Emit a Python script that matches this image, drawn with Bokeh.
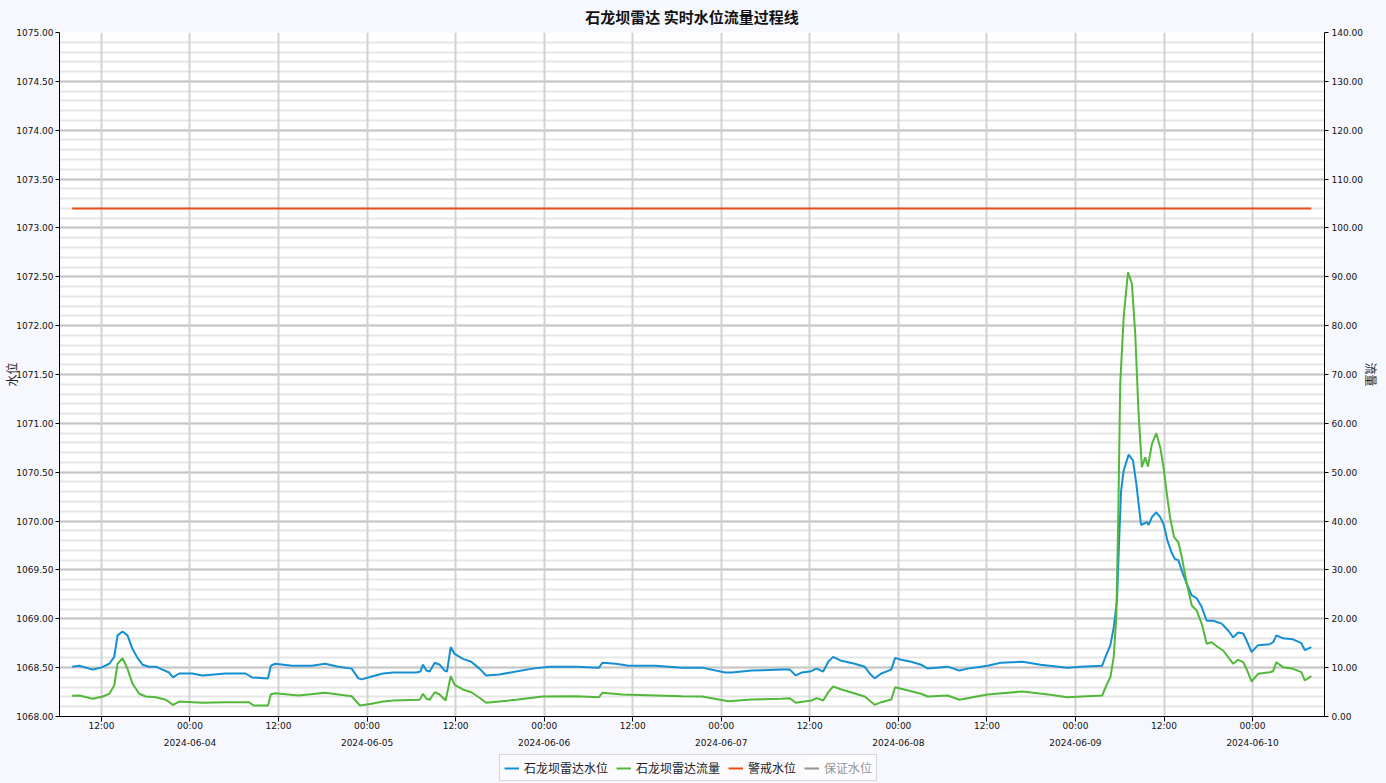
import pandas as pd
from bokeh.plotting import figure
from bokeh.layouts import column
from bokeh.models import (Range1d, LinearAxis, DatetimeAxis, FixedTicker, SingleIntervalTicker, Grid,
                          NumeralTickFormatter, DatetimeTickFormatter, Legend, LegendItem)
from bokeh.embed import file_html
from bokeh.resources import INLINE

# ---------------- data ----------------
level_time = [
    "2024-06-03 08:02", "2024-06-03 09:01", "2024-06-03 10:49", "2024-06-03 11:57", "2024-06-03 13:04",
    "2024-06-03 13:44", "2024-06-03 14:11", "2024-06-03 14:52", "2024-06-03 15:32", "2024-06-03 16:13",
    "2024-06-03 16:53", "2024-06-03 17:34", "2024-06-03 18:28", "2024-06-03 19:22", "2024-06-03 20:16",
    "2024-06-03 21:10", "2024-06-03 21:42", "2024-06-03 22:31", "2024-06-04 00:19", "2024-06-04 01:40",
    "2024-06-04 04:49", "2024-06-04 07:31", "2024-06-04 08:25", "2024-06-04 10:34", "2024-06-04 10:58",
    "2024-06-04 11:34", "2024-06-04 13:49", "2024-06-04 16:31", "2024-06-04 18:19", "2024-06-04 20:07",
    "2024-06-04 21:55", "2024-06-04 22:49", "2024-06-04 23:16", "2024-06-05 00:37", "2024-06-05 02:11",
    "2024-06-05 03:32", "2024-06-05 06:41", "2024-06-05 07:13", "2024-06-05 07:35", "2024-06-05 08:02",
    "2024-06-05 08:29", "2024-06-05 09:10", "2024-06-05 09:50", "2024-06-05 10:31", "2024-06-05 10:50",
    "2024-06-05 11:20", "2024-06-05 11:52", "2024-06-05 12:59", "2024-06-05 14:07", "2024-06-05 15:14",
    "2024-06-05 16:08", "2024-06-05 17:56", "2024-06-05 20:11", "2024-06-05 22:26", "2024-06-06 00:41",
    "2024-06-06 04:17", "2024-06-06 07:26", "2024-06-06 07:53", "2024-06-06 09:41", "2024-06-06 11:29",
    "2024-06-06 15:05", "2024-06-06 18:41", "2024-06-06 21:23", "2024-06-07 00:32", "2024-06-07 01:26",
    "2024-06-07 04:08", "2024-06-07 08:11", "2024-06-07 09:18", "2024-06-07 10:05", "2024-06-07 10:53",
    "2024-06-07 12:01", "2024-06-07 12:55", "2024-06-07 13:49", "2024-06-07 14:30", "2024-06-07 15:10",
    "2024-06-07 16:17", "2024-06-07 18:05", "2024-06-07 19:26", "2024-06-07 20:07", "2024-06-07 20:47",
    "2024-06-07 21:41", "2024-06-07 23:02", "2024-06-07 23:34", "2024-06-08 00:23", "2024-06-08 01:44",
    "2024-06-08 03:05", "2024-06-08 03:59", "2024-06-08 06:41", "2024-06-08 08:16", "2024-06-08 09:23",
    "2024-06-08 12:05", "2024-06-08 13:53", "2024-06-08 16:49", "2024-06-08 19:17", "2024-06-08 22:53",
    "2024-06-09 00:41", "2024-06-09 03:37", "2024-06-09 04:04", "2024-06-09 04:44", "2024-06-09 05:11",
    "2024-06-09 05:38", "2024-06-09 05:52", "2024-06-09 06:11", "2024-06-09 06:32", "2024-06-09 07:13",
    "2024-06-09 07:48", "2024-06-09 08:15", "2024-06-09 08:53", "2024-06-09 09:41", "2024-06-09 09:55",
    "2024-06-09 10:22", "2024-06-09 10:57", "2024-06-09 11:29", "2024-06-09 11:56", "2024-06-09 12:28",
    "2024-06-09 13:04", "2024-06-09 13:31", "2024-06-09 13:57", "2024-06-09 14:25", "2024-06-09 15:05",
    "2024-06-09 15:46", "2024-06-09 16:26", "2024-06-09 17:07", "2024-06-09 17:47", "2024-06-09 18:41",
    "2024-06-09 19:49", "2024-06-09 20:42", "2024-06-09 21:23", "2024-06-09 22:03", "2024-06-09 22:44",
    "2024-06-09 23:11", "2024-06-09 23:52", "2024-06-10 00:45", "2024-06-10 02:20", "2024-06-10 02:47",
    "2024-06-10 03:14", "2024-06-10 04:08", "2024-06-10 05:29", "2024-06-10 06:37", "2024-06-10 07:04",
    "2024-06-10 07:58",
]
level = [
    1068.51, 1068.52, 1068.48, 1068.50, 1068.54, 1068.61, 1068.83, 1068.87, 1068.83, 1068.69,
    1068.60, 1068.53, 1068.51, 1068.51, 1068.48, 1068.45, 1068.40, 1068.44, 1068.44, 1068.42,
    1068.44, 1068.44, 1068.40, 1068.39, 1068.52, 1068.54, 1068.52, 1068.52, 1068.54, 1068.51,
    1068.49, 1068.39, 1068.38, 1068.41, 1068.44, 1068.45, 1068.45, 1068.46, 1068.53, 1068.47,
    1068.46, 1068.55, 1068.53, 1068.47, 1068.46, 1068.71, 1068.64, 1068.59, 1068.56, 1068.49,
    1068.42, 1068.43, 1068.46, 1068.49, 1068.51, 1068.51, 1068.50, 1068.55, 1068.54, 1068.52,
    1068.52, 1068.50, 1068.50, 1068.45, 1068.45, 1068.47, 1068.48, 1068.48, 1068.42, 1068.45,
    1068.46, 1068.49, 1068.46, 1068.56, 1068.61, 1068.57, 1068.54, 1068.51, 1068.44, 1068.39,
    1068.44, 1068.48, 1068.60, 1068.58, 1068.56, 1068.53, 1068.49, 1068.51, 1068.47, 1068.49,
    1068.52, 1068.55, 1068.56, 1068.53, 1068.50, 1068.51, 1068.52, 1068.61, 1068.73, 1068.91,
    1069.19, 1069.70, 1070.31, 1070.52, 1070.68, 1070.62, 1070.38, 1069.96, 1069.99, 1069.96,
    1070.04, 1070.09, 1070.04, 1069.97, 1069.80, 1069.67, 1069.61, 1069.60, 1069.49, 1069.36,
    1069.24, 1069.21, 1069.12, 1068.98, 1068.98, 1068.95, 1068.88, 1068.81, 1068.86, 1068.85,
    1068.78, 1068.66, 1068.73, 1068.74, 1068.76, 1068.83, 1068.80, 1068.79, 1068.75, 1068.68,
    1068.71,
]
flow_time = [
    "2024-06-03 08:02", "2024-06-03 09:01", "2024-06-03 10:49", "2024-06-03 12:10", "2024-06-03 13:04",
    "2024-06-03 13:44", "2024-06-03 14:11", "2024-06-03 14:52", "2024-06-03 15:32", "2024-06-03 16:13",
    "2024-06-03 17:07", "2024-06-03 18:01", "2024-06-03 19:22", "2024-06-03 20:43", "2024-06-03 21:42",
    "2024-06-03 22:31", "2024-06-04 01:40", "2024-06-04 04:49", "2024-06-04 07:58", "2024-06-04 08:38",
    "2024-06-04 10:34", "2024-06-04 10:58", "2024-06-04 11:34", "2024-06-04 14:43", "2024-06-04 18:19",
    "2024-06-04 21:55", "2024-06-04 23:02", "2024-06-05 00:37", "2024-06-05 02:11", "2024-06-05 03:32",
    "2024-06-05 07:08", "2024-06-05 07:35", "2024-06-05 08:02", "2024-06-05 08:29", "2024-06-05 09:10",
    "2024-06-05 09:50", "2024-06-05 10:39", "2024-06-05 11:20", "2024-06-05 11:52", "2024-06-05 12:59",
    "2024-06-05 14:07", "2024-06-05 15:14", "2024-06-05 16:08", "2024-06-05 20:11", "2024-06-05 23:47",
    "2024-06-06 04:17", "2024-06-06 07:26", "2024-06-06 07:53", "2024-06-06 10:35", "2024-06-06 15:05",
    "2024-06-06 18:41", "2024-06-06 21:23", "2024-06-07 00:59", "2024-06-07 04:08", "2024-06-07 08:11",
    "2024-06-07 09:18", "2024-06-07 10:05", "2024-06-07 12:14", "2024-06-07 12:55", "2024-06-07 13:49",
    "2024-06-07 14:30", "2024-06-07 15:10", "2024-06-07 16:17", "2024-06-07 19:26", "2024-06-07 20:47",
    "2024-06-07 21:41", "2024-06-07 23:02", "2024-06-07 23:34", "2024-06-08 00:23", "2024-06-08 03:05",
    "2024-06-08 03:59", "2024-06-08 06:41", "2024-06-08 08:16", "2024-06-08 12:05", "2024-06-08 16:49",
    "2024-06-08 20:37", "2024-06-08 22:53", "2024-06-09 03:37", "2024-06-09 04:17", "2024-06-09 04:44",
    "2024-06-09 05:11", "2024-06-09 05:32", "2024-06-09 05:48", "2024-06-09 06:04", "2024-06-09 06:32",
    "2024-06-09 07:07", "2024-06-09 07:39", "2024-06-09 08:06", "2024-06-09 08:32", "2024-06-09 09:00",
    "2024-06-09 09:27", "2024-06-09 09:49", "2024-06-09 10:22", "2024-06-09 10:57", "2024-06-09 11:29",
    "2024-06-09 11:56", "2024-06-09 12:23", "2024-06-09 12:49", "2024-06-09 13:22", "2024-06-09 13:57",
    "2024-06-09 14:25", "2024-06-09 15:05", "2024-06-09 15:46", "2024-06-09 16:26", "2024-06-09 17:07",
    "2024-06-09 17:47", "2024-06-09 18:27", "2024-06-09 19:20", "2024-06-09 20:01", "2024-06-09 21:23",
    "2024-06-09 22:03", "2024-06-09 22:44", "2024-06-09 23:11", "2024-06-09 23:52", "2024-06-10 00:45",
    "2024-06-10 02:20", "2024-06-10 02:47", "2024-06-10 03:14", "2024-06-10 04:08", "2024-06-10 05:29",
    "2024-06-10 06:37", "2024-06-10 07:04", "2024-06-10 07:58",
]
flow = [
    4.24, 4.30, 3.62, 4.09, 4.64, 6.34, 10.79, 11.93, 9.76, 6.69,
    4.65, 4.09, 3.95, 3.42, 2.39, 3.07, 2.80, 2.93, 2.93, 2.25,
    2.25, 4.56, 4.77, 4.30, 4.85, 4.15, 2.25, 2.60, 3.07, 3.27,
    3.42, 4.65, 3.62, 3.42, 4.97, 4.50, 3.27, 8.25, 6.49, 5.53,
    4.97, 3.83, 2.80, 3.42, 4.09, 4.15, 3.95, 4.85, 4.50, 4.30,
    4.15, 4.09, 3.13, 3.48, 3.62, 3.75, 2.80, 3.27, 3.75, 3.27,
    4.97, 6.14, 5.53, 4.09, 2.39, 2.93, 3.48, 6.00, 5.67, 4.65,
    4.09, 4.30, 3.42, 4.50, 5.12, 4.44, 3.95, 4.30, 6.69, 8.04,
    12.14, 20.32, 40.79, 68.09, 81.72, 90.93, 88.56, 78.33, 62.63, 51.03,
    53.07, 51.17, 55.81, 57.98, 55.12, 51.03, 45.58, 40.79, 36.70, 35.67,
    32.60, 27.16, 22.72, 21.69, 18.97, 14.88, 15.21, 14.18, 13.51, 10.79,
    11.60, 11.11, 9.76, 7.16, 8.74, 9.07, 9.27, 11.11, 10.09, 9.76,
    9.07, 7.37, 8.25,
]
warn_time = ["2024-06-03 08:02", "2024-06-10 07:58"]
warn_level = [1073.20, 1073.20]

series_names = ["石龙坝雷达水位", "石龙坝雷达流量", "警戒水位", "保证水位"]
series_colors = ["#1490d2", "#52b83a", "#ea4f1b", "#222222"]
title_text = "石龙坝雷达 实时水位流量过程线"
left_name = "水位"
right_name = "流量"

# ---------------- figure ----------------
FONT = "Noto Sans CJK SC"
TICK_FONT = "DejaVu Sans"
BG = "#f7f8fe"

x_start = pd.Timestamp("2024-06-03 06:19")
x_end = pd.Timestamp("2024-06-10 09:45")

p = figure(frame_width=1265, frame_height=684, x_axis_type=None, y_axis_type=None,
           x_range=Range1d(x_start, x_end), y_range=Range1d(1068, 1075),
           output_backend="svg", toolbar_location=None,
           min_border_left=55, min_border_right=61, min_border_top=32, min_border_bottom=36)
p.extra_y_ranges = {"flow": Range1d(0, 140)}
p.background_fill_color = "white"
p.border_fill_color = BG
p.outline_line_color = None

p.title.text = title_text
p.title.align = "center"
p.title.text_font = FONT
p.title.text_font_size = "15px"
p.title.text_font_style = "bold"
p.title.text_color = "#111111"
p.title.vertical_align = "top"
p.title.standoff = 8
p.title.offset = 0

# ticks
tick12 = pd.date_range("2024-06-03 12:00", "2024-06-10 00:00", freq="12h")
tick24 = pd.date_range("2024-06-04 00:00", "2024-06-10 00:00", freq="24h")
ms12 = [t.value / 1e6 for t in tick12]
ms24 = [t.value / 1e6 for t in tick24]

def fmt(s):
    return DatetimeTickFormatter(milliseconds=s, seconds=s, minsec=s, minutes=s, hourmin=s,
                                 hours=s, days=s, months=s, years=s, strip_leading_zeros=False)

def style_labels(ax):
    ax.major_label_text_font = TICK_FONT
    ax.major_label_text_font_size = "9px"
    ax.major_label_text_color = "#111111"
    ax.minor_tick_line_color = None

xaxis = DatetimeAxis(ticker=FixedTicker(ticks=ms12), formatter=fmt("%H:%M"))
xaxis.axis_line_color = "black"
xaxis.major_tick_line_color = "black"
xaxis.major_tick_out = 5
xaxis.major_tick_in = 0
xaxis.major_label_standoff = -1
style_labels(xaxis)
p.add_layout(xaxis, "below")

xaxis2 = DatetimeAxis(ticker=FixedTicker(ticks=ms24), formatter=fmt("%Y-%m-%d"))
xaxis2.axis_line_color = None
xaxis2.major_tick_line_color = None
xaxis2.major_tick_out = 0
xaxis2.major_tick_in = 0
xaxis2.major_label_standoff = 5
style_labels(xaxis2)
p.add_layout(xaxis2, "below")

yticker = SingleIntervalTicker(interval=0.5, num_minor_ticks=5)
yaxis = LinearAxis(ticker=yticker, formatter=NumeralTickFormatter(format="0.00"))
yaxis.axis_line_color = "black"
yaxis.major_tick_out = 4
yaxis.major_tick_in = 0
yaxis.major_label_standoff = 2
yaxis.axis_label = left_name
yaxis.axis_label_standoff = -7
yaxis.axis_label_text_font = FONT
yaxis.axis_label_text_font_size = "12px"
yaxis.axis_label_text_font_style = "normal"
yaxis.axis_label_text_color = "#222222"
style_labels(yaxis)
p.add_layout(yaxis, "left")

y2ticker = SingleIntervalTicker(interval=10, num_minor_ticks=5)
yaxis2 = LinearAxis(y_range_name="flow", ticker=y2ticker, formatter=NumeralTickFormatter(format="0.00"))
yaxis2.axis_line_color = "black"
yaxis2.major_tick_out = 4
yaxis2.major_tick_in = 0
yaxis2.major_label_standoff = 3
yaxis2.axis_label = right_name
yaxis2.axis_label_standoff = -3
yaxis2.axis_label_text_font = FONT
yaxis2.axis_label_text_font_size = "12px"
yaxis2.axis_label_text_font_style = "normal"
yaxis2.axis_label_text_color = "#222222"
style_labels(yaxis2)
p.add_layout(yaxis2, "right")

# grids
ygrid = Grid(dimension=1, ticker=yticker, grid_line_color="#c6c6c6", grid_line_width=2,
             minor_grid_line_color="#e6e6e6", minor_grid_line_width=2)
xgrid = Grid(dimension=0, ticker=xaxis.ticker, grid_line_color="#d2d2d2", grid_line_width=2)
p.add_layout(ygrid, "center")
p.add_layout(xgrid, "center")

# series
lt = pd.to_datetime(level_time)
ft = pd.to_datetime(flow_time)
wt = pd.to_datetime(warn_time)

p.line(lt, level, line_color=series_colors[0], line_width=2)
p.line(ft, flow, line_color=series_colors[1], line_width=2, y_range_name="flow")
p.line(wt, warn_level, line_color=series_colors[2], line_width=2)

# ---------------- legend strip (separate small figure below) ----------------
lf = figure(width=1386, height=31, x_axis_type=None, y_axis_type=None,
            x_range=Range1d(0, 1), y_range=Range1d(0, 1),
            output_backend="svg", toolbar_location=None,
            min_border_left=0, min_border_right=0, min_border_top=0, min_border_bottom=0)
lf.background_fill_color = BG
lf.border_fill_color = BG
lf.outline_line_color = None
lf.xgrid.visible = False
lf.ygrid.visible = False

items = []
for name, col in zip(series_names, series_colors):
    # one off-range placeholder point per series so the legend swatch is drawn
    r = lf.line([-1.0], [-1.0], line_color=col, line_width=2)
    items.append(LegendItem(label=name, renderers=[r]))
items[-1].renderers[0].visible = False

legend = Legend(items=items, orientation="horizontal", location=(440, 2))
legend.label_text_font = FONT
legend.label_text_font_size = "12px"
legend.label_text_color = "#222222"
legend.glyph_width = 15
legend.glyph_height = 14
legend.label_height = 14
legend.label_standoff = 5
legend.spacing = 8
legend.padding = 4
legend.margin = 0
legend.border_line_color = "#b4b4b4"
legend.border_line_width = 1
legend.background_fill_color = "#fbfbfe"
legend.background_fill_alpha = 1
legend.inactive_fill_color = "white"
legend.inactive_fill_alpha = 0.5
legend.click_policy = "hide"
lf.add_layout(legend, "center")

layout = column(p, lf, spacing=0)
layout.background = BG

open("out.html", "w").write(file_html(layout, INLINE))
